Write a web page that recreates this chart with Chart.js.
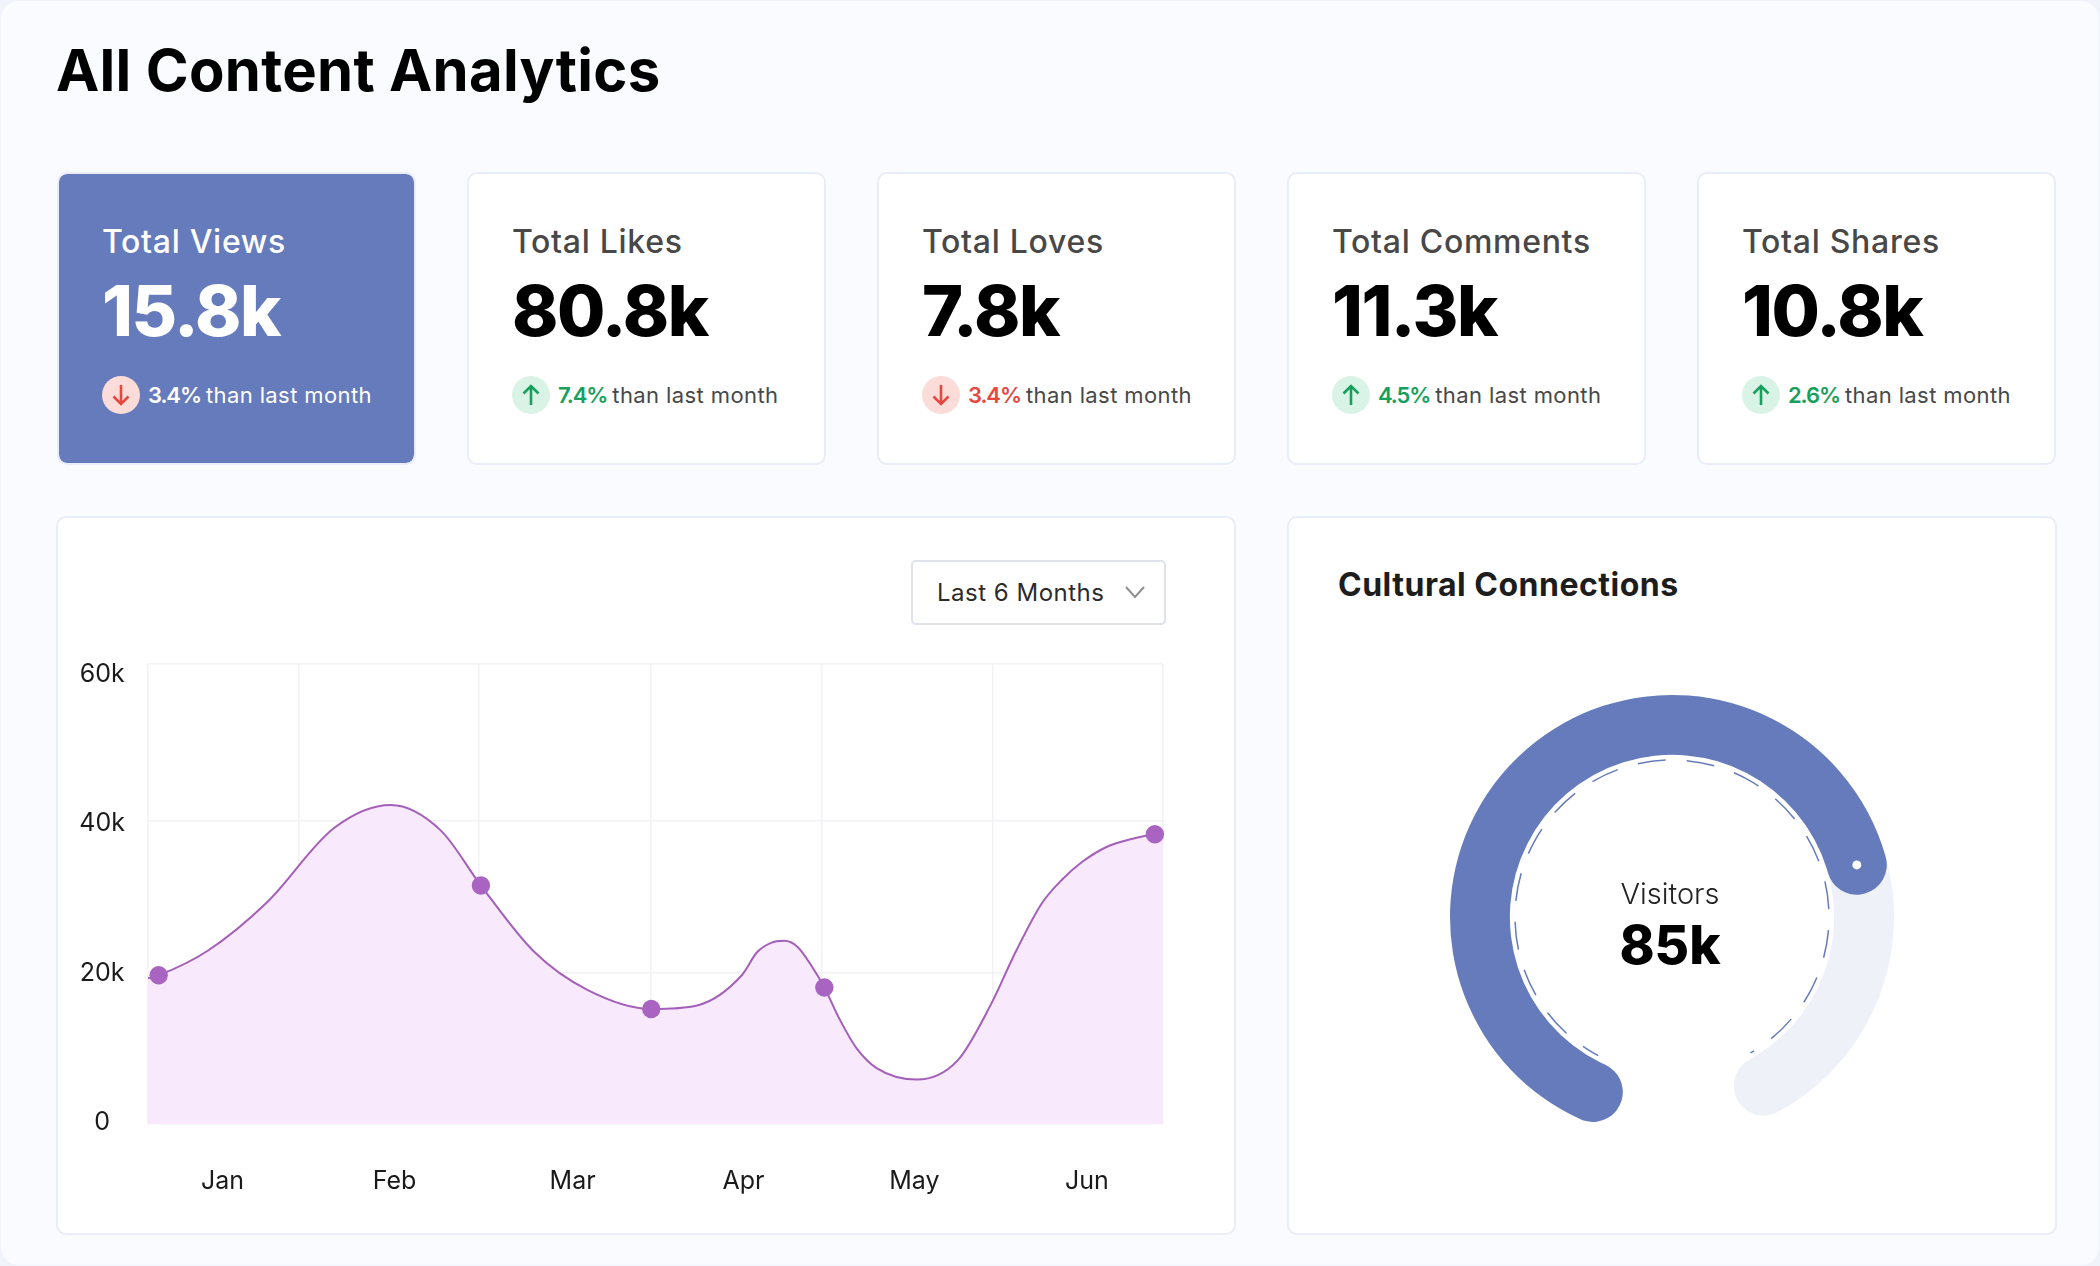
<!DOCTYPE html>
<html>
<head>
<meta charset="utf-8">
<title>All Content Analytics</title>
<script src="https://cdn.jsdelivr.net/npm/chart.js@4/dist/chart.umd.min.js"></script>
<style>
  html, body { margin: 0; padding: 0; background: #f1f3fb; }
  body { width: 2100px; height: 1266px; overflow: hidden; font-family: Inter, sans-serif; position: relative; }
  .frame { position: absolute; left: 1px; top: 1px; width: 2098px; height: 1264px; background: #fafbff; border-radius: 18px; }
  h1 { position: absolute; left: 56px; top: 32px; margin: 0; font-size: 58px; line-height: 76px; font-weight: 700; color: #000; letter-spacing: 0.3px; }
  .stats { position: absolute; left: 57px; top: 172px; display: flex; gap: 51px; }
  .stat { box-sizing: border-box; width: 359px; height: 293px; background: #fff; border: 2px solid #e9edf8; border-radius: 10px; padding: 0 0 0 43px; position: relative; color: #484848; background-clip: padding-box; }
  .stat.active { background-color: #667bbb; color: #fff; }
  .stat .name { position: absolute; top: 48px; font-size: 32px; line-height: 40px; font-weight: 500; letter-spacing: 0.7px; }
  .stat .value { position: absolute; top: 95px; font-size: 70px; line-height: 84px; font-weight: 800; color: #000; letter-spacing: -1.5px; }
  .stat.active .value { color: #fff; }
  .stat .change { position: absolute; top: 202px; display: flex; align-items: center; font-size: 22px; line-height: 38px; white-space: nowrap; letter-spacing: 0.4px; }
  .stat .badge { width: 38px; height: 38px; border-radius: 50%; margin-right: 8px; display: block; }
  .stat .pct { font-weight: 600; margin-right: 5px; letter-spacing: -1.1px; }
  .up .badge { background: #d9f3e6; } .up .pct { color: #17a05d; }
  .down .badge { background: #fbdcd8; } .down .pct { color: #e5483f; }
  .stat.active .pct { color: #fff; }
  .panel { position: absolute; top: 516px; height: 719px; box-sizing: border-box; background: #fff; border: 2px solid #e9edf8; border-radius: 10px; }
  #linePanel { left: 56px; width: 1180px; }
  #donutPanel { left: 1287px; width: 770px; }
  .select { position: absolute; left: 853px; top: 42px; width: 255px; height: 65px; box-sizing: border-box; border: 2px solid #dfe2ea; border-radius: 5px; font-size: 24px; line-height: 61px; padding-left: 24px; color: #2b2b2b; letter-spacing: 0.5px; }
  .select svg { position: absolute; left: 211px; top: 22px; }
  .panel h2 { position: absolute; left: 49px; top: 46px; margin: 0; font-size: 32px; line-height: 42px; font-weight: 700; color: #1d1d1d; letter-spacing: 0.5px; }
  #lineChart { position: absolute; left: 2px; top: 116px; }
  #trackChart, #gaugeChart { position: absolute; left: 153px; top: 165px; }
  .center { position: absolute; left: 281px; width: 200px; text-align: center; }
  #visitorsLabel { top: 356px; font-size: 29px; line-height: 40px; font-weight: 300; color: #222; }
  #visitorsValue { top: 392px; font-size: 53px; line-height: 70px; font-weight: 800; color: #000; }
</style>
</head>
<body>
<div class="frame"></div>
<h1>All Content Analytics</h1>
<div class="stats" id="stats"></div>
<div class="panel" id="linePanel">
  <div class="select">Last 6 Months
    <svg width="22" height="16" viewBox="0 0 22 16"><path d="M2 3 L11 13 L20 3" fill="none" stroke="#8f8f8f" stroke-width="2"/></svg>
  </div>
  <canvas id="lineChart" width="1120" height="596" style="width:1120px;height:596px"></canvas>
</div>
<div class="panel" id="donutPanel">
  <h2>Cultural Connections</h2>
  <canvas id="trackChart" style="width:460px;height:460px"></canvas>
  <canvas id="gaugeChart" style="width:460px;height:460px"></canvas>
  <div class="center" id="visitorsLabel">Visitors</div>
  <div class="center" id="visitorsValue">85k</div>
</div>

<script>
// stat cards
const statNames = ['Total Views', 'Total Likes', 'Total Loves', 'Total Comments', 'Total Shares']
const statValues = ['15.8k', '80.8k', '7.8k', '11.3k', '10.8k']
const statChanges = ['3.4%', '7.4%', '3.4%', '4.5%', '2.6%']
const statDirections = ['down', 'up', 'down', 'up', 'up']

// line chart, x in months from the left edge of the plot, y in thousands
const curveX = [0, 0.063, 0.353, 0.707, 1.1, 1.435, 1.73, 1.968, 2.281, 2.597, 2.975, 3.251, 3.51, 3.6, 3.68, 3.76, 3.84, 3.92, 3.998, 4.09, 4.188, 4.307, 4.546, 4.786, 4.985, 5.13, 5.284, 5.404, 5.523, 5.663, 5.802, 5.952, 6]
const curveValues = [19, 19.4, 22.6, 29, 38.6, 41.6, 38.3, 31.1, 22.5, 17.5, 15, 15.5, 19.4, 22.4, 23.6, 23.9, 23.1, 20.7, 17.8, 13.6, 9.9, 7.3, 5.8, 8.3, 15.7, 22.5, 28.8, 31.9, 34.2, 36.1, 37.1, 37.8, 37.85]
const markerX = [0.063, 1.968, 2.975, 3.998, 5.952]
const markerValues = [19.4, 31.1, 15, 17.8, 37.8]
const monthLabels = ['Jan', 'Feb', 'Mar', 'Apr', 'May', 'Jun']
const monthTicks = [0.44, 1.457, 2.51, 3.52, 4.53, 5.55]
const xGridLines = [0, 0.894, 1.955, 2.97, 3.98, 4.995, 6]
const yLabels = ['0', '20k', '40k', '60k']
const yLabelTicks = [0.2, 19.65, 39.25, 58.6]
const yGridLines = [0, 19.7, 39.56, 60]

// gauge
const visitorValues = [85, 26.5]
const visitorColors = ['#667bbb', 'rgba(0,0,0,0)']

const arrowUp = '<svg class="badge" viewBox="0 0 38 38"><path d="M19 29 V10 M11.5 17.5 L19 10 L26.5 17.5" fill="none" stroke="#17a05d" stroke-width="2.6"/></svg>'
const arrowDown = '<svg class="badge" viewBox="0 0 38 38"><path d="M19 9 V28 M11.5 20.5 L19 28 L26.5 20.5" fill="none" stroke="#e5483f" stroke-width="2.6"/></svg>'

document.getElementById('stats').innerHTML = statNames.map((name, i) => {
    let dir = statDirections[i]
    return '<div class="stat ' + dir + (i === 0 ? ' active' : '') + '">' +
        '<div class="name">' + name + '</div>' +
        '<div class="value">' + statValues[i] + '</div>' +
        '<div class="change">' + (dir === 'up' ? arrowUp : arrowDown) +
        '<span class="pct">' + statChanges[i] + '</span>than last month</div></div>'
}).join('')

const gridColor = '#f1f1f6'
const tickFont = { family: 'Inter', size: 25 }

new Chart(document.getElementById('lineChart'), {
    type: 'line',
    data: {
        datasets: [
            {
                data: markerX.map((x, i) => ({ x: x, y: markerValues[i] })),
                showLine: false,
                pointRadius: 9.2,
                pointBorderWidth: 0,
                pointBackgroundColor: '#a864c0',
                clip: false
            },
            {
                data: curveX.map((x, i) => ({ x: x, y: curveValues[i] })),
                borderColor: '#a45fb8',
                borderWidth: 2,
                backgroundColor: '#f8e9fd',
                fill: 'origin',
                cubicInterpolationMode: 'monotone',
                pointRadius: 0
            }
        ]
    },
    options: {
        responsive: false,
        animation: false,
        layout: { padding: { left: 0, right: 17, top: 14, bottom: 0 } },
        plugins: { legend: { display: false }, tooltip: { enabled: false } },
        scales: {
            x: {
                type: 'linear', min: 0, max: 6,
                border: { display: false },
                grid: { color: gridColor, lineWidth: 1.5, drawTicks: false },
                ticks: { display: false },
                afterBuildTicks: s => { s.ticks = xGridLines.map(v => ({ value: v })) },
                afterFit: s => { s.height = 0 }
            },
            months: {
                type: 'linear', axis: 'x', position: 'bottom', min: 0, max: 6,
                border: { display: false },
                grid: { display: false },
                ticks: {
                    font: tickFont, color: '#1a1a1a', padding: 34, maxRotation: 0, autoSkip: false,
                    callback: (v, i) => monthLabels[i]
                },
                afterBuildTicks: s => { s.ticks = monthTicks.map(v => ({ value: v })) },
                afterFit: s => { s.height = 106 }
            },
            y: {
                min: 0, max: 60,
                border: { display: false },
                grid: { color: gridColor, lineWidth: 1.5, drawTicks: false },
                ticks: { display: false },
                afterBuildTicks: s => { s.ticks = yGridLines.map(v => ({ value: v })) },
                afterFit: s => { s.width = 0 }
            },
            yText: {
                type: 'linear', axis: 'y', position: 'left', min: 0, max: 60,
                border: { display: false },
                grid: { display: false },
                ticks: {
                    font: tickFont, color: '#1a1a1a', padding: 15, crossAlign: 'center', autoSkip: false,
                    callback: (v, i) => yLabels[i]
                },
                afterBuildTicks: s => { s.ticks = yLabelTicks.map(v => ({ value: v })) },
                afterFit: s => { s.width = 88 }
            }
        }
    }
})

// the doughnut keeps the gap at the bottom, both charts share rotation and sweep
const gaugeRotation = 195.4
const gaugeSweep = 325
const capAngle = 8.9

// dashed inner circle and the white dot on the end of the blue arc
const gaugeDetails = {
    id: 'gaugeDetails',
    afterDatasetsDraw(chart) {
        let arc = chart.getDatasetMeta(0).data[0]
        let ctx = chart.ctx
        ctx.save()
        ctx.strokeStyle = '#667bbb'
        ctx.lineWidth = 1.5
        ctx.setLineDash([28, 21])
        ctx.lineDashOffset = 10
        ctx.beginPath()
        ctx.arc(arc.x, arc.y, 157, (208 - 90) * Math.PI / 180, (510 - 90) * Math.PI / 180)
        ctx.stroke()
        ctx.restore()

        let dotAngle = arc.endAngle - capAngle * Math.PI / 180
        ctx.fillStyle = '#fff'
        ctx.beginPath()
        ctx.arc(arc.x + Math.cos(dotAngle) * 192, arc.y + Math.sin(dotAngle) * 192, 4.5, 0, Math.PI * 2)
        ctx.fill()
    }
}

const doughnutOptions = {
    responsive: false,
    animation: false,
    rotation: gaugeRotation,
    circumference: gaugeSweep,
    radius: 222,
    cutout: 168,
    plugins: { legend: { display: false }, tooltip: { enabled: false } }
}

new Chart(document.getElementById('trackChart'), {
    type: 'doughnut',
    data: {
        datasets: [{
            data: [visitorValues[0] + visitorValues[1]],
            backgroundColor: '#eef1f8',
            borderWidth: 0,
            borderRadius: 30
        }]
    },
    options: doughnutOptions
})

new Chart(document.getElementById('gaugeChart'), {
    type: 'doughnut',
    data: {
        datasets: [{
            data: visitorValues,
            backgroundColor: visitorColors,
            borderWidth: 0,
            borderRadius: 30
        }]
    },
    options: doughnutOptions,
    plugins: [gaugeDetails]
})
</script>
</body>
</html>
